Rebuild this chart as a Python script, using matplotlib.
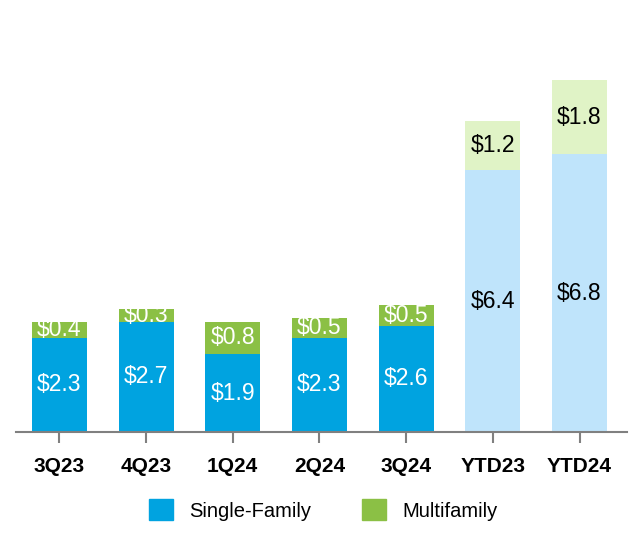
import numpy as np
import matplotlib.pyplot as plt
from matplotlib.patches import Patch

plt.rcParams['font.family'] = ['Liberation Sans', 'DejaVu Sans']

periods = ['3Q23', '4Q23', '1Q24', '2Q24', '3Q24', 'YTD23', 'YTD24']
single_family = [2.3, 2.7, 1.9, 2.3, 2.6, 6.4, 6.8]
multifamily = [0.4, 0.3, 0.8, 0.5, 0.5, 1.2, 1.8]

blue, green = '#00a3e0', '#8bc045'
light_blue, light_green = '#bfe4fb', '#e0f3c6'

fig = plt.figure(figsize=(6.4, 5.34), dpi=100)
ax = fig.add_axes([0.025, 0.191, 0.955, 0.689])

x = np.arange(len(periods))
sf_colors = [blue] * 5 + [light_blue] * 2
mf_colors = [green] * 5 + [light_green] * 2
txt_colors = ['white'] * 5 + ['black'] * 2

ax.bar(x, single_family, width=0.635, color=sf_colors)
ax.bar(x, multifamily, width=0.635, bottom=single_family, color=mf_colors)

for i in range(len(periods)):
    sf, mf = single_family[i], multifamily[i]
    ax.text(x[i], sf / 2, f'${sf:.1f}', ha='center', va='center',
            fontsize=16.5, color=txt_colors[i])
    ax.text(x[i], sf + mf / 2, f'${mf:.1f}', ha='center', va='center',
            fontsize=16.5, color=txt_colors[i])

ax.set_xlim(-0.5, 6.55)
ax.set_ylim(0, 9.0)
ax.set_xticks(x)
ax.set_xticklabels(periods, fontsize=15, fontweight='bold')
ax.set_yticks([])
for s in ['left', 'right', 'top']:
    ax.spines[s].set_visible(False)
ax.spines['bottom'].set_color('#808080')
ax.spines['bottom'].set_linewidth(1.5)
ax.tick_params(axis='x', length=8, width=1.5, color='#808080', pad=10)

handles = [Patch(color=blue, label='Single-Family'),
           Patch(color=green, label='Multifamily')]
fig.legend(handles=handles, loc='center', bbox_to_anchor=(0.505, 0.045), ncol=2,
           frameon=False, fontsize=14.5, handlelength=1.2, handleheight=1.2,
           columnspacing=2.5, handletextpad=0.8)

fig.savefig('out.png', dpi=100)
